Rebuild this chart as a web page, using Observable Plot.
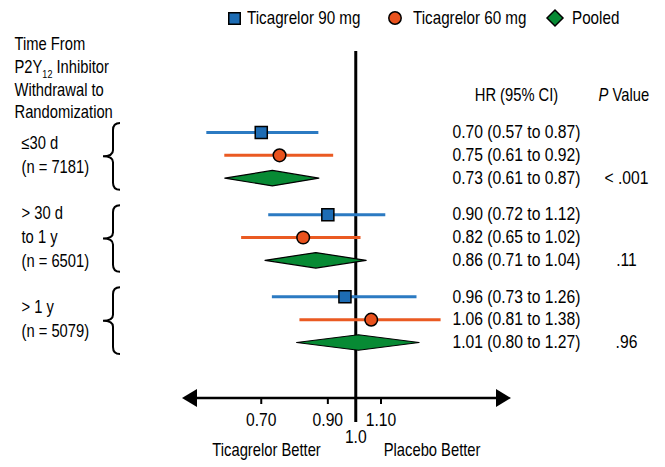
<!DOCTYPE html>
<html>
<head>
<meta charset="utf-8">
<script src="https://cdn.jsdelivr.net/npm/d3@7"></script>
<script src="https://cdn.jsdelivr.net/npm/@observablehq/plot@0.6"></script>
<style>
  html, body { margin: 0; padding: 0; background: #fff; }
  body { width: 665px; height: 467px; overflow: hidden;
         font-family: "Liberation Sans", Arial, sans-serif; color: #000; }
  #legend { position: relative; height: 28px; }
  #legend .lab { position: absolute; top: 7px; line-height: 22px; font-size: 19px; white-space: nowrap;
                 transform: scaleX(0.8); transform-origin: 0 50%; }
  #legend svg { position: absolute; overflow: visible; }
  #chart svg { display: block; overflow: visible; }
</style>
</head>
<body>
<div id="legend"></div>
<div id="chart"></div>
<script>
// ---- data ----
const series = ["Ticagrelor 90 mg", "Ticagrelor 60 mg", "Pooled"];
const groupLabels = [["≤30 d", "(n = 7181)"], ["> 30 d", "to 1 y", "(n = 6501)"], ["> 1 y", "(n = 5079)"]];
const hr = [0.70, 0.75, 0.73, 0.90, 0.82, 0.86, 0.96, 1.06, 1.01];
const lo = [0.57, 0.61, 0.61, 0.72, 0.65, 0.71, 0.73, 0.81, 0.80];
const hi = [0.87, 0.92, 0.87, 1.12, 1.02, 1.04, 1.26, 1.38, 1.27];
const pValues = ["< .001", ".11", ".96"];
const xTicks = [0.70, 0.90, 1.10];
const headerLines = ["Time From", "P2Y12 Inhibitor", "Withdrawal to", "Randomization"];

// ---- styling / layout ----
const FONT = '"Liberation Sans", Arial, sans-serif';
const markerColor = {"Ticagrelor 90 mg": "#1d6cb4", "Ticagrelor 60 mg": "#e9521d", "Pooled": "#078a34"};
const lineColor = {"Ticagrelor 90 mg": "#2b7ac2", "Ticagrelor 60 mg": "#ea5a22"};
const GAP = 0.6;
const xDomain = [0.52, 1.8];

const rows = hr.map((v, i) => ({
  group: Math.floor(i / 3), series: series[i % 3], hr: v, lo: lo[i], hi: hi[i],
  pos: i + Math.floor(i / 3) * GAP
}));
const pooled = rows.filter(d => d.series === "Pooled");
const diamondPts = pooled.flatMap(d => [
  {g: d.group, x: d.lo, y: d.pos}, {g: d.group, x: d.hr, y: d.pos - 0.34},
  {g: d.group, x: d.hi, y: d.pos}, {g: d.group, x: d.hr, y: d.pos + 0.34}
]);
const groupLineRows = groupLabels.flatMap((lines, g) => {
  const gr = rows.filter(d => d.group === g);
  const mid = (gr[0].pos + gr[gr.length - 1].pos) / 2;
  return lines.map((t, j) => ({t, g, y: mid + (j - (lines.length - 1) / 2) * 1.05}));
});

// ---- legend (HTML) ----
const legend = d3.select("#legend");
legend.append("svg").attr("width", 13).attr("height", 13).style("left", "228px").style("top", "12px")
  .append("rect").attr("x", 0.75).attr("y", 0.75).attr("width", 11.5).attr("height", 11.5)
  .attr("fill", markerColor[series[0]]).attr("stroke", "#000").attr("stroke-width", 1.5);
legend.append("div").attr("class", "lab").style("left", "247px").text(series[0]);
legend.append("svg").attr("width", 14).attr("height", 14).style("left", "388px").style("top", "11px")
  .append("circle").attr("cx", 7).attr("cy", 7).attr("r", 6.2)
  .attr("fill", markerColor[series[1]]).attr("stroke", "#000").attr("stroke-width", 1.5);
legend.append("div").attr("class", "lab").style("left", "413px").text(series[1]);
legend.append("svg").attr("width", 18).attr("height", 18).style("left", "546px").style("top", "9px")
  .append("path").attr("d", "M1,9L9,1L17,9L9,17Z")
  .attr("fill", markerColor[series[2]]).attr("stroke", "#000").attr("stroke-width", 1.5);
legend.append("div").attr("class", "lab").style("left", "572px").text(series[2]);

// ---- helper for function marks ----
function getArgs(args) {
  const s = args.find(a => a && typeof a.x === "function" && typeof a.y === "function");
  const d = args.find(a => a && typeof a.height === "number" && a.marginBottom !== undefined);
  return [s, d];
}
function axisArrow(...args) {
  const [s, dim] = getArgs(args);
  const xa = s.x(xDomain[0]), xb = s.x(xDomain[1]);
  const y0 = dim.height - dim.marginBottom;
  const g = d3.create("svg:g");
  g.append("line").attr("x1", xa + 10).attr("x2", xb - 10).attr("y1", y0).attr("y2", y0)
    .attr("stroke", "#000").attr("stroke-width", 2.5);
  g.append("path").attr("d", `M${xa},${y0}L${xa + 15},${y0 - 9}L${xa + 15},${y0 + 9}Z`).attr("fill", "#000");
  g.append("path").attr("d", `M${xb},${y0}L${xb - 15},${y0 - 9}L${xb - 15},${y0 + 9}Z`).attr("fill", "#000");
  return g.node();
}
function braces(...args) {
  const [s] = getArgs(args);
  const g = d3.create("svg:g").attr("fill", "none").attr("stroke", "#000").attr("stroke-width", 2);
  for (let k = 0; k < groupLabels.length; k++) {
    const gr = rows.filter(d => d.group === k);
    const top = s.y(gr[0].pos) - 9, bot = s.y(gr[gr.length - 1].pos) + 12, mid = (top + bot) / 2;
    const xs = 113, xe = 120, xt = 103;
    g.append("path").attr("d",
      `M${xe},${top}Q${xs},${top} ${xs},${top + 7}L${xs},${mid - 6}Q${xs},${mid} ${xt},${mid}` +
      `Q${xs},${mid} ${xs},${mid + 6}L${xs},${bot - 7}Q${xs},${bot} ${xe},${bot}`);
  }
  return g.node();
}

// ---- chart ----
const W = 665, H = 439;
const plot = Plot.plot({
  width: W, height: H,
  marginLeft: 0, marginRight: 0, marginTop: 23, marginBottom: 69,
  style: {fontFamily: FONT, fontSize: "18px", background: "white", color: "black", overflow: "visible"},
  x: {type: "log", domain: xDomain, range: [182, 511], ticks: xTicks, tickFormat: d => d.toFixed(2),
      tickSize: 6, tickPadding: 9, label: null},
  y: {domain: [0, 9.2], range: [104, 314], axis: null},
  marks: [
    Plot.ruleX([1], {x: d => d, stroke: "#000", strokeWidth: 3, insetBottom: -24}),
    axisArrow,
    braces,
    ...["Ticagrelor 90 mg", "Ticagrelor 60 mg"].map(s =>
      Plot.ruleY(rows.filter(d => d.series === s), {y: "pos", x1: "lo", x2: "hi", stroke: lineColor[s], strokeWidth: 3})),
    Plot.line(diamondPts, {x: "x", y: "y", z: "g", curve: "linear-closed", fill: markerColor.Pooled, stroke: "#000", strokeWidth: 1.2}),
    Plot.dot(rows.filter(d => d.series === series[0]), {x: "hr", y: "pos", symbol: "square", r: 6.8,
      fill: markerColor[series[0]], stroke: "#000", strokeWidth: 1.5}),
    Plot.dot(rows.filter(d => d.series === series[1]), {x: "hr", y: "pos", symbol: "circle", r: 6.3,
      fill: markerColor[series[1]], stroke: "#000", strokeWidth: 1.5}),
    // right columns
    Plot.text(rows, {y: "pos", text: d => `${d.hr.toFixed(2)} (${d.lo.toFixed(2)} to ${d.hi.toFixed(2)})`,
      frameAnchor: "left", dx: 452, textAnchor: "start", fontSize: 18}),
    Plot.text(pooled, {y: "pos", text: d => pValues[d.group], frameAnchor: "left", dx: 626, textAnchor: "middle", fontSize: 18}),
    Plot.text(["HR (95% CI)"], {text: d => d, frameAnchor: "top-left", dx: 516, dy: 37, textAnchor: "middle", fontSize: 18}),
    Plot.text(["P"], {text: d => d, frameAnchor: "top-left", dx: 598, dy: 37, textAnchor: "start", fontStyle: "italic", fontSize: 18}),
    Plot.text(["Value"], {text: d => d, frameAnchor: "top-left", dx: 612, dy: 37, textAnchor: "start", fontSize: 18}),
    // left header
    ...headerLines.map((t, j) => Plot.text([t], {text: d => d, frameAnchor: "top-left", dx: 14, dy: -14 + j * 22.7,
      textAnchor: "start", fontSize: 18})),
    // group labels
    Plot.text(groupLineRows, {y: "y", text: "t", frameAnchor: "left", dx: 21, textAnchor: "start", fontSize: 18}),
    // axis annotations
    Plot.text([1], {x: d => d, text: d => d.toFixed(1), frameAnchor: "bottom", dy: 44, fontSize: 18}),
    Plot.text([1], {x: d => d, text: () => "Ticagrelor Better", frameAnchor: "bottom", dy: 57, dx: -35, textAnchor: "end", fontSize: 18}),
    Plot.text([1], {x: d => d, text: () => "Placebo Better", frameAnchor: "bottom", dy: 57, dx: 28, textAnchor: "start", fontSize: 18})
  ]
});
const svg = d3.select(plot);
svg.selectAll('g[aria-label^="x-axis"] line, g[aria-label^="x-axis"] path').attr("stroke-width", 2);
svg.selectAll('g[aria-label^="x-axis"] text').attr("font-size", 18);

// subscript in "P2Y12"
svg.selectAll("text").filter(function () { return this.textContent === headerLines[1]; }).each(function () {
  const t = d3.select(this);
  t.text(null);
  t.append("tspan").text("P2Y");
  t.append("tspan").attr("font-size", 11).attr("dy", 5).text("12");
  t.append("tspan").attr("dy", -5).text(" Inhibitor");
});

// condense text horizontally around its anchor (the reference uses a condensed face)
svg.selectAll("text").each(function () {
  const s = this.textContent;
  const digits = (s.match(/[0-9.]/g) || []).length;
  const k = digits / Math.max(1, s.length) > 0.4 ? 0.87 : 0.82;
  const x = +(this.getAttribute("x") || 0);
  this.removeAttribute("x");
  const tr = this.getAttribute("transform") || "";
  this.setAttribute("transform", `${tr} translate(${x},0) scale(${k},1)`.trim());
});
document.getElementById("chart").appendChild(plot);
</script>
</body>
</html>
